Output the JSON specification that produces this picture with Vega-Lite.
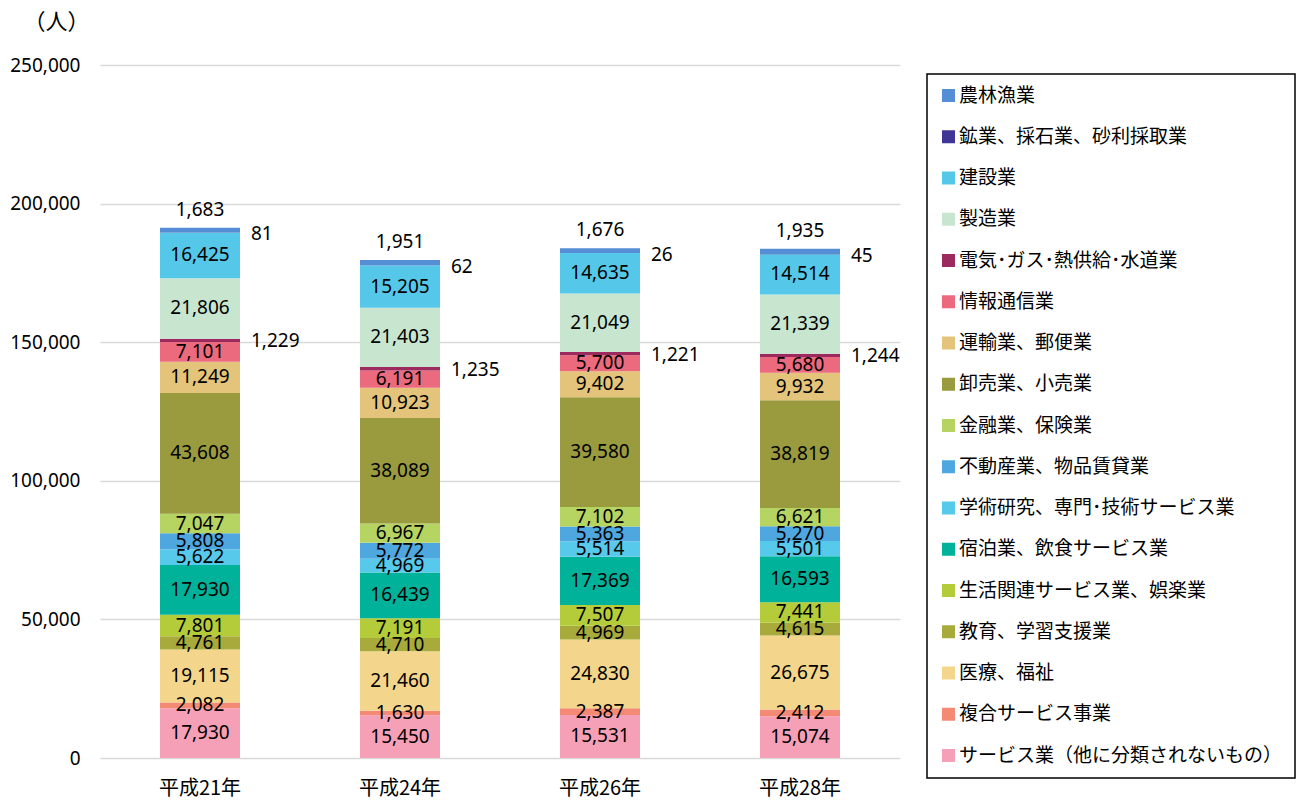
{
  "$schema": "https://vega.github.io/schema/vega-lite/v6.json",
  "width": 800,
  "height": 693,
  "autosize": {"type": "none"},
  "padding": {"left": 100, "top": 65, "right": 404, "bottom": 42},
  "background": "white",
  "config": {"font": "Noto Sans CJK JP", "view": {"stroke": null}},
  "data": {"values": [
    {"year": "平成21年", "industry": "サービス業（他に分類されないもの）", "value": 17930},
    {"year": "平成21年", "industry": "複合サービス事業", "value": 2082},
    {"year": "平成21年", "industry": "医療、福祉", "value": 19115},
    {"year": "平成21年", "industry": "教育、学習支援業", "value": 4761},
    {"year": "平成21年", "industry": "生活関連サービス業、娯楽業", "value": 7801},
    {"year": "平成21年", "industry": "宿泊業、飲食サービス業", "value": 17930},
    {"year": "平成21年", "industry": "学術研究、専門･技術サービス業", "value": 5622},
    {"year": "平成21年", "industry": "不動産業、物品賃貸業", "value": 5808},
    {"year": "平成21年", "industry": "金融業、保険業", "value": 7047},
    {"year": "平成21年", "industry": "卸売業、小売業", "value": 43608},
    {"year": "平成21年", "industry": "運輸業、郵便業", "value": 11249},
    {"year": "平成21年", "industry": "情報通信業", "value": 7101},
    {"year": "平成21年", "industry": "電気･ガス･熱供給･水道業", "value": 1229},
    {"year": "平成21年", "industry": "製造業", "value": 21806},
    {"year": "平成21年", "industry": "建設業", "value": 16425},
    {"year": "平成21年", "industry": "鉱業、採石業、砂利採取業", "value": 81},
    {"year": "平成21年", "industry": "農林漁業", "value": 1683},
    {"year": "平成24年", "industry": "サービス業（他に分類されないもの）", "value": 15450},
    {"year": "平成24年", "industry": "複合サービス事業", "value": 1630},
    {"year": "平成24年", "industry": "医療、福祉", "value": 21460},
    {"year": "平成24年", "industry": "教育、学習支援業", "value": 4710},
    {"year": "平成24年", "industry": "生活関連サービス業、娯楽業", "value": 7191},
    {"year": "平成24年", "industry": "宿泊業、飲食サービス業", "value": 16439},
    {"year": "平成24年", "industry": "学術研究、専門･技術サービス業", "value": 4969},
    {"year": "平成24年", "industry": "不動産業、物品賃貸業", "value": 5772},
    {"year": "平成24年", "industry": "金融業、保険業", "value": 6967},
    {"year": "平成24年", "industry": "卸売業、小売業", "value": 38089},
    {"year": "平成24年", "industry": "運輸業、郵便業", "value": 10923},
    {"year": "平成24年", "industry": "情報通信業", "value": 6191},
    {"year": "平成24年", "industry": "電気･ガス･熱供給･水道業", "value": 1235},
    {"year": "平成24年", "industry": "製造業", "value": 21403},
    {"year": "平成24年", "industry": "建設業", "value": 15205},
    {"year": "平成24年", "industry": "鉱業、採石業、砂利採取業", "value": 62},
    {"year": "平成24年", "industry": "農林漁業", "value": 1951},
    {"year": "平成26年", "industry": "サービス業（他に分類されないもの）", "value": 15531},
    {"year": "平成26年", "industry": "複合サービス事業", "value": 2387},
    {"year": "平成26年", "industry": "医療、福祉", "value": 24830},
    {"year": "平成26年", "industry": "教育、学習支援業", "value": 4969},
    {"year": "平成26年", "industry": "生活関連サービス業、娯楽業", "value": 7507},
    {"year": "平成26年", "industry": "宿泊業、飲食サービス業", "value": 17369},
    {"year": "平成26年", "industry": "学術研究、専門･技術サービス業", "value": 5514},
    {"year": "平成26年", "industry": "不動産業、物品賃貸業", "value": 5363},
    {"year": "平成26年", "industry": "金融業、保険業", "value": 7102},
    {"year": "平成26年", "industry": "卸売業、小売業", "value": 39580},
    {"year": "平成26年", "industry": "運輸業、郵便業", "value": 9402},
    {"year": "平成26年", "industry": "情報通信業", "value": 5700},
    {"year": "平成26年", "industry": "電気･ガス･熱供給･水道業", "value": 1221},
    {"year": "平成26年", "industry": "製造業", "value": 21049},
    {"year": "平成26年", "industry": "建設業", "value": 14635},
    {"year": "平成26年", "industry": "鉱業、採石業、砂利採取業", "value": 26},
    {"year": "平成26年", "industry": "農林漁業", "value": 1676},
    {"year": "平成28年", "industry": "サービス業（他に分類されないもの）", "value": 15074},
    {"year": "平成28年", "industry": "複合サービス事業", "value": 2412},
    {"year": "平成28年", "industry": "医療、福祉", "value": 26675},
    {"year": "平成28年", "industry": "教育、学習支援業", "value": 4615},
    {"year": "平成28年", "industry": "生活関連サービス業、娯楽業", "value": 7441},
    {"year": "平成28年", "industry": "宿泊業、飲食サービス業", "value": 16593},
    {"year": "平成28年", "industry": "学術研究、専門･技術サービス業", "value": 5501},
    {"year": "平成28年", "industry": "不動産業、物品賃貸業", "value": 5270},
    {"year": "平成28年", "industry": "金融業、保険業", "value": 6621},
    {"year": "平成28年", "industry": "卸売業、小売業", "value": 38819},
    {"year": "平成28年", "industry": "運輸業、郵便業", "value": 9932},
    {"year": "平成28年", "industry": "情報通信業", "value": 5680},
    {"year": "平成28年", "industry": "電気･ガス･熱供給･水道業", "value": 1244},
    {"year": "平成28年", "industry": "製造業", "value": 21339},
    {"year": "平成28年", "industry": "建設業", "value": 14514},
    {"year": "平成28年", "industry": "鉱業、採石業、砂利採取業", "value": 45},
    {"year": "平成28年", "industry": "農林漁業", "value": 1935}
  ]},
  "transform": [
    {"calculate": "indexof(['サービス業（他に分類されないもの）','複合サービス事業','医療、福祉','教育、学習支援業','生活関連サービス業、娯楽業','宿泊業、飲食サービス業','学術研究、専門･技術サービス業','不動産業、物品賃貸業','金融業、保険業','卸売業、小売業','運輸業、郵便業','情報通信業','電気･ガス･熱供給･水道業','製造業','建設業','鉱業、採石業、砂利採取業','農林漁業'], datum.industry)", "as": "rank"},
    {"stack": "value", "groupby": ["year"], "sort": [{"field": "rank", "order": "ascending"}], "as": ["v0", "v1"]},
    {"calculate": "(datum.v0 + datum.v1) / 2", "as": "vmid"}
  ],
  "encoding": {
    "x": {
      "field": "year", "type": "nominal",
      "sort": ["平成21年", "平成24年", "平成26年", "平成28年"],
      "scale": {"paddingInner": 0.6, "paddingOuter": 0.3},
      "axis": {"title": null, "labelAngle": 0, "labelFontSize": 20, "labelColor": "black", "labelPadding": 20, "domain": false, "ticks": false}
    }
  },
  "layer": [
    {
      "mark": {"type": "bar"},
      "encoding": {
        "y": {
          "field": "v1", "type": "quantitative",
          "scale": {"domain": [0, 250000], "nice": false},
          "axis": {
            "title": "（人）", "titleAngle": 0, "titleX": -44, "titleY": -44, "titleAlign": "center", "titleBaseline": "middle",
            "titleFontSize": 22, "titleFontWeight": "normal", "titleColor": "black",
            "values": [0, 50000, 100000, 150000, 200000, 250000],
            "labelExpr": "format(datum.value, ',')",
            "labelFont": "Noto Sans", "labelFontSize": 19, "labelColor": "black", "labelPadding": 20,
            "domain": false, "ticks": false, "gridColor": "#D9D9D9", "gridWidth": 1.5
          }
        },
        "y2": {"field": "v0"},
        "color": {
          "field": "industry", "type": "nominal",
          "scale": {
            "domain": ["農林漁業", "鉱業、採石業、砂利採取業", "建設業", "製造業", "電気･ガス･熱供給･水道業", "情報通信業", "運輸業、郵便業", "卸売業、小売業", "金融業、保険業", "不動産業、物品賃貸業", "学術研究、専門･技術サービス業", "宿泊業、飲食サービス業", "生活関連サービス業、娯楽業", "教育、学習支援業", "医療、福祉", "複合サービス事業", "サービス業（他に分類されないもの）"],
            "range": ["#558ED5", "#3F3594", "#55C8EA", "#C8E6CF", "#9C2A5F", "#EC6A7E", "#E3C47A", "#9A9A3E", "#B5D462", "#4EA7DF", "#57C9EA", "#00B29A", "#B5CC3A", "#A8AA3C", "#F3D68B", "#F48A73", "#F6A0B7"]
          },
          "legend": {
            "title": null, "orient": "none", "legendX": 827, "legendY": 9,
            "padding": 12, "strokeColor": "black",
            "symbolType": "square", "symbolSize": 169, "symbolStrokeWidth": 0,
            "labelFontSize": 19, "labelColor": "black", "labelOffset": 1, "labelLimit": 400,
            "rowPadding": 21.25,
            "encode": {"legend": {"update": {"strokeWidth": {"value": 1.5}}}}
          }
        }
      }
    },
    {
      "transform": [{"filter": "datum.rank <= 11 || datum.rank == 13 || datum.rank == 14"}],
      "mark": {"type": "text", "font": "Noto Sans", "fontSize": 19, "color": "black"},
      "encoding": {
        "y": {"field": "vmid", "type": "quantitative", "scale": {"domain": [0, 250000], "nice": false}},
        "text": {"field": "value", "type": "quantitative", "format": ","}
      }
    },
    {
      "transform": [{"filter": "datum.rank == 16"}],
      "mark": {"type": "text", "font": "Noto Sans", "fontSize": 19, "color": "black", "dy": -18},
      "encoding": {
        "y": {"field": "v1", "type": "quantitative", "scale": {"domain": [0, 250000], "nice": false}},
        "text": {"field": "value", "type": "quantitative", "format": ","}
      }
    },
    {
      "transform": [{"filter": "datum.rank == 15"}],
      "mark": {"type": "text", "font": "Noto Sans", "fontSize": 19, "color": "black", "align": "left", "dx": 51, "dy": 2},
      "encoding": {
        "y": {"field": "v1", "type": "quantitative", "scale": {"domain": [0, 250000], "nice": false}},
        "text": {"field": "value", "type": "quantitative", "format": ","}
      }
    },
    {
      "transform": [{"filter": "datum.rank == 12"}],
      "mark": {"type": "text", "font": "Noto Sans", "fontSize": 19, "color": "black", "align": "left", "dx": 51, "dy": 1},
      "encoding": {
        "y": {"field": "vmid", "type": "quantitative", "scale": {"domain": [0, 250000], "nice": false}},
        "text": {"field": "value", "type": "quantitative", "format": ","}
      }
    }
  ]
}
